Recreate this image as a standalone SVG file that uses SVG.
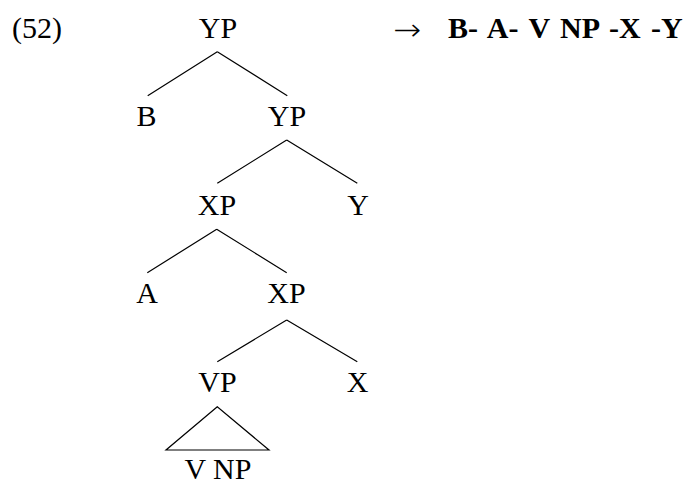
<svg xmlns="http://www.w3.org/2000/svg" width="686" height="480" viewBox="0 0 686 480" font-family="'Liberation Serif', serif">
<style>
text{font-family:'Liberation Serif',serif;font-size:30px;fill:#000}
.n{text-anchor:middle}
.b{font-weight:bold}
.ar{font-family:'DejaVu Sans',sans-serif;font-weight:200;font-size:30px}
.e{stroke:#000;stroke-width:1.2;fill:none}
</style>
<rect width="686" height="480" fill="#fff"/>
<text x="12" y="38">(52)</text>
<text class="ar" x="393" y="40" textLength="28" lengthAdjust="spacingAndGlyphs">→</text>
<text class="b" x="448" y="38" word-spacing="3">B- A- V NP -X -Y</text>
<g id="yp1"><text class="n" x="218" y="38">YP</text></g>
<g id="b"><text class="n" x="146.5" y="126">B</text></g>
<g id="yp2"><text class="n" x="287" y="126">YP</text></g>
<g id="xp1"><text class="n" x="217" y="215">XP</text></g>
<g id="y"><text class="n" x="358" y="215">Y</text></g>
<g id="a"><text class="n" x="147" y="303">A</text></g>
<g id="xp2"><text class="n" x="286.5" y="303">XP</text></g>
<g id="vp"><text class="n" x="217.5" y="392">VP</text></g>
<g id="x"><text class="n" x="357.5" y="392">X</text></g>
<g id="vnp"><text class="n" x="218" y="478.5">V NP</text></g>
<g id="edges" class="e">
<path class="e" d="M217.3 51.7L147.7 95.7M217.3 51.7L287.3 95.7"/>
<path class="e" d="M286.7 140L217.3 183.3M286.7 140L357.3 183.3"/>
<path class="e" d="M216.7 229.3L147.3 272.7M216.7 229.3L286.7 272.7"/>
<path class="e" d="M286.7 320L217.3 361.7M286.7 320L357.3 361.7"/>
<path class="e" d="M217.3 406.7L166 450L269 450Z"/>
</g>
</svg>
